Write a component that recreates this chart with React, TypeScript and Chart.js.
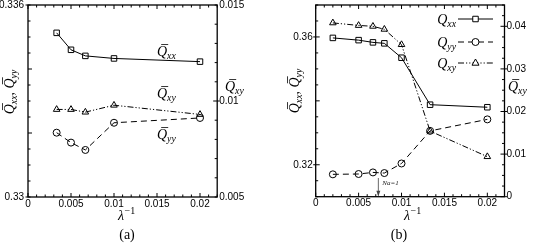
import React, { useEffect, useRef } from 'react';
import { Chart, registerables } from 'chart.js';
Chart.register(...registerables);

// ---------- Panel (a) data ----------
const xA = [0.00333, 0.005, 0.00667, 0.01, 0.02];
const qxxA = [0.33513, 0.3346, 0.33441, 0.33433, 0.33423];
const qyyA = [0.33201, 0.3317, 0.33147, 0.33232, 0.33247];
const qxyA = [0.00956, 0.00956, 0.00942, 0.00978, 0.0093];

// ---------- Panel (b) data ----------
const xB = [0.002, 0.005, 0.00667, 0.008, 0.01, 0.01333, 0.02];
const qxxB = [0.3597, 0.359, 0.3583, 0.358, 0.3535, 0.3388, 0.338];
const qyyB = [0.317, 0.3171, 0.3176, 0.3174, 0.3204, 0.3306, 0.3342];
const qxyB = [0.0408, 0.0402, 0.04, 0.0393, 0.0357, 0.0154, 0.0094];

// ---------- ticks / labels ----------
const xTickLabels = [0, 0.005, 0.01, 0.015, 0.02];
const aLeftTickLabels = [0.33, 0.336];
const aRightTickLabels = [0.005, 0.01, 0.015];
const bLeftTickLabels = [0.32, 0.36];
const bRightTickLabels = [0, 0.01, 0.02, 0.03, 0.04];
const subs = ['xx', 'yy', 'xy'];
const panelNames = ['(a)', '(b)'];
const naText = 'Na=1';
const naX = 0.0073;

const SERIF = '"Liberation Serif","Times New Roman",serif';
const SANS = '"Liberation Sans",Arial,sans-serif';

function steps(a: number, b: number, s: number) {
  const out: number[] = [];
  const n = Math.round((b - a) / s);
  for (let i = 0; i <= n; i++) out.push(a + i * s);
  return out;
}

function measureQ(ctx: CanvasRenderingContext2D, sub: string, size: number) {
  ctx.font = `italic ${size}px ${SERIF}`;
  const qw = ctx.measureText('Q').width;
  ctx.font = `italic ${size * 0.7}px ${SERIF}`;
  return qw + ctx.measureText(sub).width;
}

function drawQ(ctx: CanvasRenderingContext2D, x: number, base: number, sub: string, bar: boolean, size: number) {
  ctx.textAlign = 'left';
  ctx.textBaseline = 'alphabetic';
  ctx.font = `italic ${size}px ${SERIF}`;
  ctx.fillText('Q', x, base);
  const qw = ctx.measureText('Q').width;
  if (bar) {
    ctx.save();
    ctx.lineWidth = 0.8;
    ctx.setLineDash([]);
    ctx.beginPath();
    const by = base - size * 0.82;
    ctx.moveTo(x + size * 0.3, by);
    ctx.lineTo(x + size * 0.8, by);
    ctx.stroke();
    ctx.restore();
  }
  ctx.font = `italic ${size * 0.7}px ${SERIF}`;
  ctx.fillText(sub, x + qw, base + size * 0.22);
  return qw + ctx.measureText(sub).width;
}

function drawLeftTitle(ctx: CanvasRenderingContext2D, bx: number, cy: number, size: number) {
  ctx.save();
  ctx.translate(bx, cy);
  ctx.rotate(-Math.PI / 2);
  const w1 = measureQ(ctx, subs[0], size);
  ctx.font = `${size}px ${SERIF}`;
  const wc = ctx.measureText(', ').width;
  const w2 = measureQ(ctx, subs[1], size);
  let x = -(w1 + wc + w2) / 2;
  drawQ(ctx, x, 0, subs[0], true, size);
  x += w1;
  ctx.font = `${size}px ${SERIF}`;
  ctx.fillText(', ', x, 0);
  x += wc;
  drawQ(ctx, x, 0, subs[1], true, size);
  ctx.restore();
}

function drawLambda(ctx: CanvasRenderingContext2D, x: number, base: number) {
  ctx.textAlign = 'left';
  ctx.textBaseline = 'alphabetic';
  ctx.font = `italic 14px ${SERIF}`;
  ctx.fillText('λ', x, base);
  const w = ctx.measureText('λ').width;
  ctx.font = `10px ${SERIF}`;
  ctx.fillText('−1', x + w + 0.5, base - 6);
}

type Series = { xs: number[]; ys: number[]; axis: string; dash: number[]; style: string; r: number };

function makeDataset(s: Series) {
  return {
    data: s.xs.map((x, i) => ({ x, y: s.ys[i] })),
    yAxisID: s.axis,
    borderColor: '#000',
    borderWidth: 1,
    borderDash: s.dash,
    pointStyle: s.style,
    pointRadius: s.r,
    pointBorderWidth: 1,
    pointBorderColor: '#000',
    pointBackgroundColor: 'rgba(0,0,0,0)',
    fill: false,
    tension: 0,
  };
}

const DASH_YY = [6, 4];
const DASH_XY = [6, 2, 1.2, 2, 1.2, 2];

type TickSpec = { minor: number[]; major: number[]; outward: number[] };

function drawTicks(chart: any, xs: TickSpec, ls: TickSpec, rs: TickSpec) {
  const ctx: CanvasRenderingContext2D = chart.ctx;
  const { left, right, top, bottom } = chart.chartArea;
  const sx = chart.scales.x, sl = chart.scales.y, sr = chart.scales.y2;
  ctx.save();
  ctx.strokeStyle = '#000';
  ctx.lineWidth = 1;
  ctx.setLineDash([]);
  ctx.beginPath();
  const MJ = 4, MN = 2.5, OUT = 2.5;
  xs.minor.forEach((v) => {
    const p = sx.getPixelForValue(v);
    const len = xs.major.some((m) => Math.abs(m - v) < 1e-9) ? MJ : MN;
    ctx.moveTo(p, bottom); ctx.lineTo(p, bottom - len);
    ctx.moveTo(p, top); ctx.lineTo(p, top + len);
  });
  ls.minor.forEach((v) => {
    const p = sl.getPixelForValue(v);
    const len = ls.major.some((m) => Math.abs(m - v) < 1e-9) ? MJ : MN;
    ctx.moveTo(left, p); ctx.lineTo(left + len, p);
  });
  ls.outward.forEach((v) => {
    const p = sl.getPixelForValue(v);
    ctx.moveTo(left, p); ctx.lineTo(left - OUT, p);
  });
  rs.minor.forEach((v) => {
    const p = sr.getPixelForValue(v);
    const len = rs.major.some((m) => Math.abs(m - v) < 1e-9) ? MJ : MN;
    ctx.moveTo(right, p); ctx.lineTo(right - len, p);
  });
  rs.outward.forEach((v) => {
    const p = sr.getPixelForValue(v);
    ctx.moveTo(right, p); ctx.lineTo(right + OUT, p);
  });
  ctx.stroke();
  ctx.lineWidth = 1.3;
  ctx.strokeRect(left, top, right - left, bottom - top);
  ctx.restore();
}

function scaleOpts(min: number, max: number, labels: number[], pos: string, width: number, pad: number) {
  return {
    type: 'linear',
    position: pos,
    min,
    max,
    grid: { display: false, drawTicks: false },
    border: { display: false },
    afterBuildTicks: (s: any) => { s.ticks = labels.map((v) => ({ value: v })); },
    ticks: {
      autoSkip: false,
      maxRotation: 0,
      padding: pad,
      color: '#000',
      font: { family: SANS, size: 10 },
      callback: (v: any) => String(v),
    },
    afterFit: (s: any) => {
      if (pos === 'bottom') { s.height = width; s.paddingLeft = 0; s.paddingRight = 0; }
      else { s.width = width; s.paddingTop = 0; s.paddingBottom = 0; }
    },
  };
}

function drawLegendRow(ctx: CanvasRenderingContext2D, textRight: number, x0: number, x1: number, y: number, sub: string, dash: number[], style: string) {
  const w = measureQ(ctx, sub, 14);
  drawQ(ctx, textRight - w, y + 4.5, sub, false, 14);
  ctx.save();
  ctx.lineWidth = 1;
  ctx.setLineDash(dash);
  ctx.beginPath();
  ctx.moveTo(x0, y); ctx.lineTo(x1, y);
  ctx.stroke();
  ctx.setLineDash([]);
  const mx = (x0 + x1) / 2;
  ctx.fillStyle = '#fff';
  ctx.beginPath();
  if (style === 'rect') {
    ctx.rect(mx - 2.75, y - 2.75, 5.5, 5.5);
  } else if (style === 'circle') {
    ctx.arc(mx, y, 3.5, 0, Math.PI * 2);
  } else {
    ctx.moveTo(mx, y - 4);
    ctx.lineTo(mx + 3.5, y + 2.2);
    ctx.lineTo(mx - 3.5, y + 2.2);
    ctx.closePath();
  }
  ctx.fill();
  ctx.stroke();
  ctx.restore();
}

function PanelA() {
  const ref = useRef<HTMLCanvasElement>(null);
  useEffect(() => {
    const plugin = {
      id: 'decorA',
      afterDraw(chart: any) {
        drawTicks(
          chart,
          { minor: steps(0, 0.022, 0.001), major: xTickLabels, outward: [] },
          { minor: steps(0.33, 0.336, 0.0005), major: [0.332, 0.334], outward: aLeftTickLabels },
          { minor: steps(0.005, 0.015, 0.001), major: [0.01], outward: [0.01] },
        );
        const ctx: CanvasRenderingContext2D = chart.ctx;
        ctx.save();
        ctx.fillStyle = '#000';
        ctx.strokeStyle = '#000';
        drawQ(ctx, 157, 56, subs[0], true, 14);
        drawQ(ctx, 157, 98, subs[2], true, 14);
        drawQ(ctx, 157, 139, subs[1], true, 14);
        drawQ(ctx, 225, 91, subs[2], true, 14);
        drawLeftTitle(ctx, 14, 92, 14);
        drawLambda(ctx, 118, 220);
        ctx.font = `14px ${SERIF}`;
        ctx.textAlign = 'center';
        ctx.fillText(panelNames[0], 127, 239);
        ctx.restore();
      },
    };
    const chart = new Chart(ref.current as HTMLCanvasElement, {
      type: 'line',
      data: {
        datasets: [
          makeDataset({ xs: xA, ys: qxxA, axis: 'y', dash: [], style: 'rect', r: 3.9 }),
          makeDataset({ xs: xA, ys: qyyA, axis: 'y', dash: DASH_YY, style: 'circle', r: 3.5 }),
          makeDataset({ xs: xA, ys: qxyA, axis: 'y2', dash: DASH_XY, style: 'triangle', r: 3.8 }),
        ],
      } as any,
      options: {
        animation: false,
        responsive: false,
        layout: { padding: { top: 4, left: 0, right: 0, bottom: 0 } },
        plugins: { legend: { display: false }, tooltip: { enabled: false } },
        scales: {
          x: scaleOpts(0, 0.022, xTickLabels, 'bottom', 46, 1),
          y: scaleOpts(0.33, 0.336, aLeftTickLabels, 'left', 28, 4),
          y2: scaleOpts(0.005, 0.015, aRightTickLabels, 'right', 52.8, 2),
        } as any,
      },
      plugins: [plugin],
    });
    return () => chart.destroy();
  }, []);
  return <canvas ref={ref} width={270} height={243} style={{ position: 'absolute', left: 0, top: 0, width: 270, height: 243 }} />;
}

function PanelB() {
  const ref = useRef<HTMLCanvasElement>(null);
  useEffect(() => {
    const plugin = {
      id: 'decorB',
      afterDraw(chart: any) {
        drawTicks(
          chart,
          { minor: steps(0, 0.022, 0.001), major: xTickLabels, outward: [] },
          { minor: steps(0.31, 0.37, 0.005), major: [0.32, 0.34, 0.36], outward: bLeftTickLabels },
          { minor: steps(0, 0.045, 0.0025), major: bRightTickLabels, outward: bRightTickLabels },
        );
        const ctx: CanvasRenderingContext2D = chart.ctx;
        ctx.save();
        ctx.fillStyle = '#000';
        ctx.strokeStyle = '#000';
        drawLegendRow(ctx, 186, 188, 223, 19, subs[0], [], 'rect');
        drawLegendRow(ctx, 186, 188, 223, 42, subs[1], DASH_YY, 'circle');
        drawLegendRow(ctx, 186, 188, 223, 63, subs[2], DASH_XY, 'triangle');
        drawQ(ctx, 238, 91, subs[2], true, 14);
        drawLeftTitle(ctx, 29, 91, 14);
        drawLambda(ctx, 134, 220);
        ctx.font = `14px ${SERIF}`;
        ctx.textAlign = 'center';
        ctx.fillText(panelNames[1], 129, 239);
        // Na=1 arrow
        const px = chart.scales.x.getPixelForValue(naX);
        const yb = chart.chartArea.bottom;
        ctx.strokeStyle = '#444';
        ctx.fillStyle = '#444';
        ctx.lineWidth = 0.8;
        ctx.beginPath();
        ctx.moveTo(px, 178);
        ctx.lineTo(px, yb - 1);
        ctx.stroke();
        ctx.beginPath();
        ctx.moveTo(px, yb - 0.5);
        ctx.lineTo(px - 2, yb - 6);
        ctx.lineTo(px + 2, yb - 6);
        ctx.closePath();
        ctx.fill();
        ctx.fillStyle = '#222';
        ctx.font = `italic 7px ${SERIF}`;
        ctx.textAlign = 'left';
        ctx.fillText(naText, px + 4, 185);
        ctx.restore();
      },
    };
    const chart = new Chart(ref.current as HTMLCanvasElement, {
      type: 'line',
      data: {
        datasets: [
          makeDataset({ xs: xB, ys: qxxB, axis: 'y', dash: [], style: 'rect', r: 3.9 }),
          makeDataset({ xs: xB, ys: qyyB, axis: 'y', dash: DASH_YY, style: 'circle', r: 3.5 }),
          makeDataset({ xs: xB, ys: qxyB, axis: 'y2', dash: DASH_XY, style: 'triangle', r: 3.8 }),
        ],
      } as any,
      options: {
        animation: false,
        responsive: false,
        layout: { padding: { top: 4, left: 0, right: 0, bottom: 0 } },
        plugins: { legend: { display: false }, tooltip: { enabled: false } },
        scales: {
          x: scaleOpts(0, 0.022, xTickLabels, 'bottom', 46.3, 1),
          y: scaleOpts(0.31, 0.37, bLeftTickLabels, 'left', 45.7, 3),
          y2: scaleOpts(0, 0.045, bRightTickLabels, 'right', 35.5, 2),
        } as any,
      },
      plugins: [plugin],
    });
    return () => chart.destroy();
  }, []);
  return <canvas ref={ref} width={270} height={243} style={{ position: 'absolute', left: 270, top: 0, width: 270, height: 243 }} />;
}

export default function App() {
  return (
    <div style={{ position: 'absolute', left: 0, top: 0, width: 540, height: 243, background: '#fff', overflow: 'hidden' }}>
      <PanelA />
      <PanelB />
    </div>
  );
}
